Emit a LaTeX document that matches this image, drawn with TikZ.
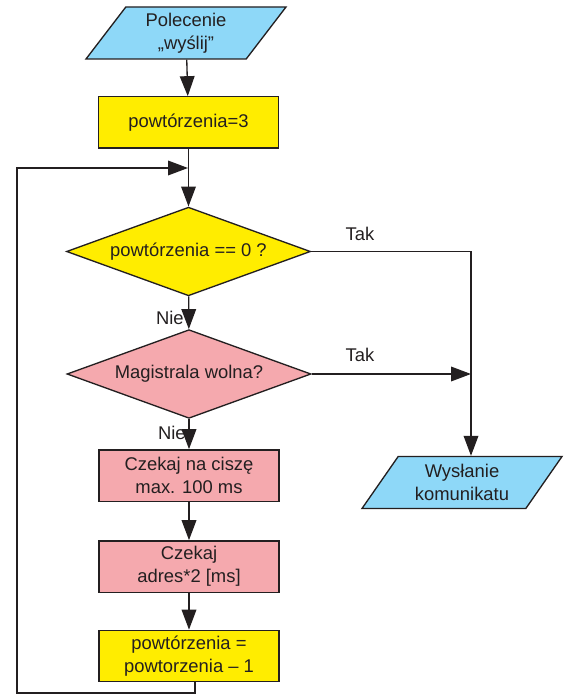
\documentclass[tikz,border=0pt]{standalone}
\usepackage{fontspec}
\setmainfont{Liberation Sans}
\usepackage{tikz}
\usetikzlibrary{shapes.geometric,arrows.meta}
\definecolor{ioblue}{HTML}{8ED8F8}
\definecolor{opyellow}{HTML}{FFED00}
\definecolor{buspink}{HTML}{F5A9AE}
\definecolor{linegray}{HTML}{231F20}
\tikzstyle{iobox} = [draw=linegray, fill=ioblue, line width=1pt,
    trapezium, trapezium left angle=45, trapezium right angle=135,
    trapezium stretches body, minimum width=150pt, minimum height=39pt,
    inner sep=0pt, align=center]
\tikzstyle{opbox} = [draw=linegray, line width=1pt, rectangle,
    minimum width=135pt, minimum height=38.5pt, align=center]
\tikzstyle{question} = [draw=linegray, line width=1pt, diamond,
    shape aspect=2.7, minimum width=183pt, minimum height=66.5pt, inner sep=0pt]
\tikzstyle{flow} = [draw=linegray, line width=1pt,
    -{Triangle[length=15pt,width=11pt]}]

\begin{document}
\begin{tikzpicture}[x=0.75pt, y=-0.75pt,
    font=\fontsize{13.8}{17}\selectfont, text=linegray]
\useasboundingbox (0,0) rectangle (565,695);
\node [iobox] (start) at (186,33) {Polecenie\\„wyślij”};
\node [opbox, fill=opyellow] (init) at (188.5,122.5) {powtórzenia=3};
\coordinate (merge) at (188,168);
\node [question, fill=opyellow] (zero) at (188.5,251.5) {powtórzenia == 0 ?};
\node [question, fill=buspink] (bus) at (189,374) {Magistrala wolna?};
\node [opbox, fill=buspink] (silence) at (189,475.5) {Czekaj na ciszę\\max. 100 ms};
\node [opbox, fill=buspink] (delay) at (189,566.5) {Czekaj\\adres*2 [ms]};
\node [opbox, fill=opyellow] (decr) at (189,656) {powtórzenia =\\powtorzenia -- 1};
\node [iobox] (send) at (462,482.5) {Wysłanie\\komunikatu};
\coordinate (right) at (471,251.5);
\coordinate (corner) at (17,693);

\draw [flow] (start) -- (init);
\draw [flow] (init) -- (zero);
\draw [flow] (zero) -- (bus);
\draw [flow] (bus) -- (silence);
\draw [flow] (silence) -- (delay);
\draw [flow] (delay) -- (decr);
\draw [flow] ([xshift=4.5pt]decr.south) |- (corner) |- (merge);
\draw [flow] (zero.east) -| (send.north -| right);
\draw [flow] (bus.east) -- (bus.east -| right);

\node (tak1) at (360,234) {Tak};
\node (tak2) at (360,355) {Tak};
\node [anchor=east, inner sep=0pt] (nie1) at (184,318) {Nie};
\node [anchor=east, inner sep=0pt] (nie2) at (186,433) {Nie};
\end{tikzpicture}
\end{document}
